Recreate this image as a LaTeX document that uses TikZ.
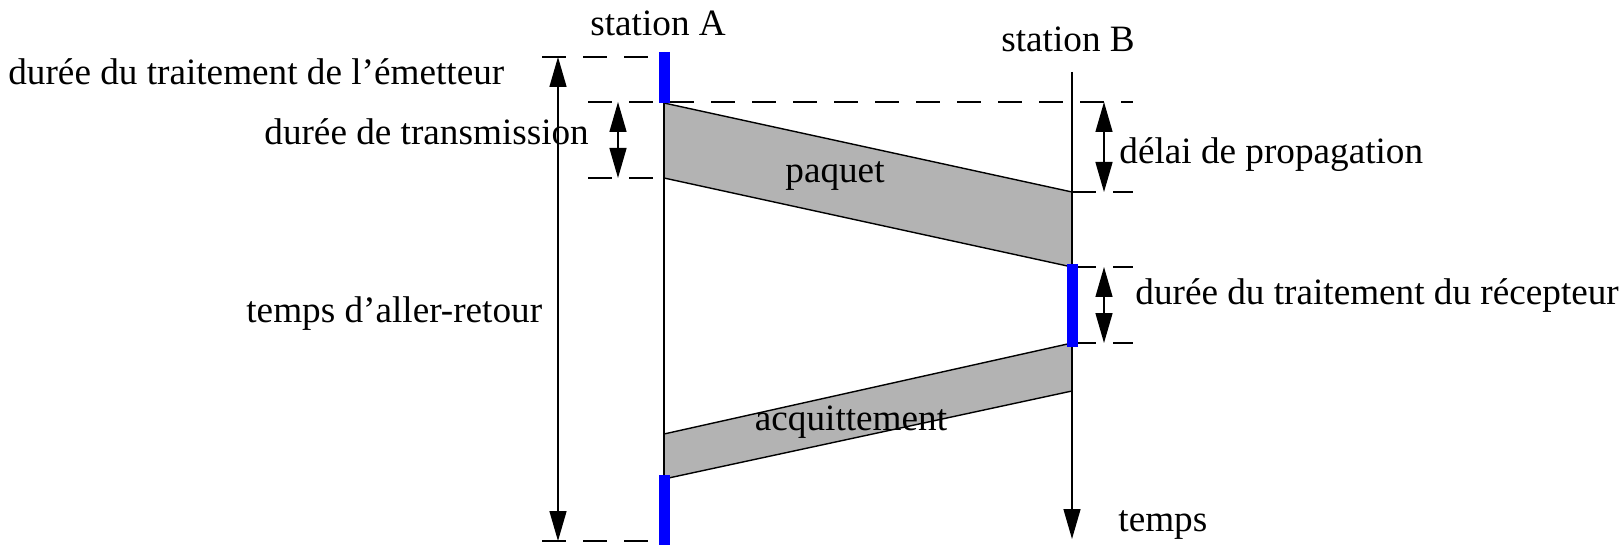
\documentclass[tikz,border=0pt]{standalone}
\usepackage{fontspec}
\setmainfont{Liberation Serif}
\usetikzlibrary{arrows.meta}
\definecolor{procBlue}{HTML}{0000FF}
\definecolor{msgGray}{HTML}{B3B3B3}
\tikzset{
  timeline/.style={line width=0.7pt},
  guide/.style={line width=0.7pt, dash pattern=on 12pt off 8.5pt},
  span/.style={line width=0.7pt, {Triangle[length=15pt,width=8.5pt]}-{Triangle[length=15pt,width=8.5pt]}},
  proc/.style={line width=5.5pt, draw=procBlue},
  msg/.style={fill=msgGray, draw=black, line width=0.7pt},
  lbl/.style={font=\fontsize{18.6}{22}\selectfont, inner sep=0pt, anchor=base west}
}

\begin{document}
\begin{tikzpicture}[x=0.5pt, y=-0.5pt]
            \useasboundingbox (0,0) rectangle (1622,545);
            \coordinate (aTop) at (664,52);
            \coordinate (aSend) at (664,103);
            \coordinate (aSent) at (664,178);
            \coordinate (aAck) at (664,434);
            \coordinate (aAcked) at (664,479);
            \coordinate (aProc) at (664,475);
            \coordinate (aBot) at (664,545);
            \coordinate (bTop) at (1072,72);
            \coordinate (bRecv) at (1072,192);
            \coordinate (bRecvd) at (1072,267);
            \coordinate (bAck) at (1072,343);
            \coordinate (bAcked) at (1072,391);
            \coordinate (bBot) at (1072,539);
            \coordinate (gTop) at (542,57);
            \coordinate (gTopEnd) at (664,57);
            \coordinate (gSend) at (588,102);
            \coordinate (gSendEnd) at (1133,102);
            \coordinate (gSent) at (588,178);
            \coordinate (gRecv) at (1133,192);
            \coordinate (gRecvd) at (1133,267);
            \coordinate (gAck) at (1133,343);
            \coordinate (gBot) at (542,541);
            \coordinate (gBotEnd) at (664,541);

            \draw[msg] (aSend) -- (bRecv) -- (bRecvd) -- (aSent) -- cycle;
            \draw[msg] (bAck) -- (bAcked) -- (aAcked) -- (aAck) -- cycle;

            \draw[timeline] (aTop) -- (aBot);
            \draw[timeline, -{Triangle[length=15pt,width=8.5pt]}] (bTop) -- (bBot);

            \draw[guide] (gTop) -- (gTopEnd);
            \draw[guide] (gSend) -- (gSendEnd);
            \draw[guide] (gSent) -- (aSent);
            \draw[guide] (bRecv) -- (gRecv);
            \draw[guide] (bRecvd) -- (gRecvd);
            \draw[guide] (bAck) -- (gAck);
            \draw[guide] (gBot) -- (gBotEnd);

            \draw[proc] (aTop) -- (aSend);
            \draw[proc] (1072,264) -- (1072,347);
            \draw[proc] (aProc) -- (aBot);

            \draw[span] (558,57) -- (558,541);
            \draw[span] (618,102) -- (618,178);
            \draw[span] (1104,102) -- (1104,192);
            \draw[span] (1104,267) -- (1104,343);

            \node[lbl] (stationA) at (590,36) {station A};
            \node[lbl] (stationB) at (1001,52) {station B};
            \node[lbl] (emetteur) at (8,85) {durée du traitement de l’émetteur};
            \node[lbl] (transmission) at (264,145) {durée de transmission};
            \node[lbl] (allerRetour) at (246,322) {temps d’aller-retour};
            \node[lbl, anchor=base] (paquet) at (835,183) {paquet};
            \node[lbl, anchor=base] (acquittement) at (851,430) {acquittement};
            \node[lbl] (propagation) at (1119,164) {délai de propagation};
            \node[lbl] (recepteur) at (1135,305) {durée du traitement du récepteur};
            \node[lbl] (temps) at (1118,531) {temps};
        \end{tikzpicture}
\end{document}
